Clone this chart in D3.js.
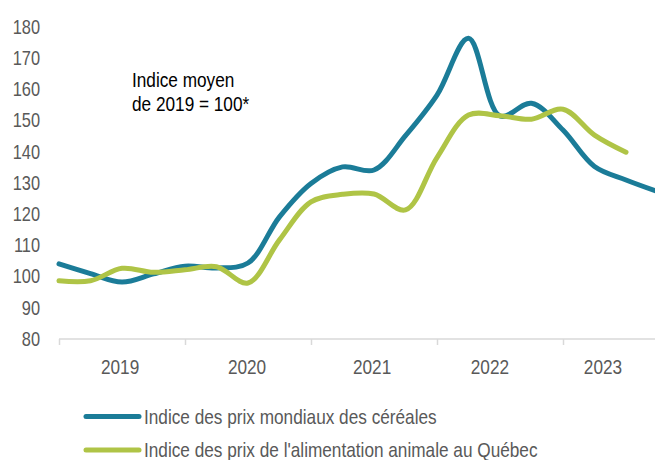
<!DOCTYPE html>
<html><head><meta charset="utf-8">
<script src="https://cdn.jsdelivr.net/npm/d3@7/dist/d3.min.js"></script>
<style>body{margin:0;background:#fff}svg{display:block}</style>
</head><body><svg id="c" width="655" height="460"></svg>
<script>
// Quarterly index values (average 2019 = 100)
const quarters = ["2019T1","2019T2","2019T3","2019T4","2020T1","2020T2","2020T3","2020T4",
  "2021T1","2021T2","2021T3","2021T4","2022T1","2022T2","2022T3","2022T4",
  "2023T1","2023T2","2023T3","2023T4"];
const cereales = [103.9,100.8,98.1,100.7,103.2,102.6,104.2,119.0,129.7,135.0,134.0,145.0,
  158.0,176.2,151.3,155.4,146.8,135.1,130.8,127.1];
const quebec = [98.5,98.5,102.5,101.2,102.0,103.0,97.8,111.6,123.8,126.2,126.3,121.2,
  138.0,151.6,151.4,150.3,153.5,145.2,139.7];
const yTicks = [80,90,100,110,120,130,140,150,160,170,180];
const years = ["2019","2020","2021","2022","2023"];
const yearStarts = [0,4,8,12,16];           // quarter index where each year begins
const yearLabelAt = [1.94,5.97,9.94,13.68,17.27]; // label anchor, in quarter units
const seriesNames = ["Indice des prix mondiaux des céréales",
  "Indice des prix de l'alimentation animale au Québec"];
const colors = ["#1b7c98","#afc446"];
const noteLines = ["Indice moyen","de 2019 = 100*"];

const svg = d3.select("#c");
const W = 655;
const x = d3.scaleLinear().domain([0,20]).range([59, 689]);
const y = d3.scaleLinear().domain([80,180]).range([338.5, 26.5]);
const FONT = "'Liberation Sans', Arial, sans-serif";
const SX = 0.82;

// y labels
svg.append("g").selectAll("text").data(yTicks).join("text")
  .attr("transform", d => `translate(40,${y(d)}) scale(${SX},1)`)
  .attr("dy","0.36em").attr("text-anchor","end")
  .attr("font-family",FONT).attr("font-size","20px").attr("fill","#595959")
  .text(d => d);

// x axis
const xAxis = d3.axisBottom(x).tickValues(yearStarts).tickSize(6).tickFormat("");
const gx = svg.append("g").attr("transform","translate(0,339)").call(xAxis);
gx.select(".domain").attr("stroke","#d9d9d9").attr("stroke-width",1.5).attr("d",`M${x(0)},0H${W}`);
gx.selectAll(".tick line").attr("stroke","#d9d9d9").attr("stroke-width",1.5);

svg.append("g").selectAll("text").data(years).join("text")
  .attr("transform",(d,i) => `translate(${x(yearLabelAt[i])},374) scale(${SX},1)`)
  .attr("text-anchor","middle")
  .attr("font-family",FONT).attr("font-size","21px").attr("fill","#595959")
  .text(d => d);

// lines
const line = d3.line().x((d,i) => x(i)).y(d => y(d)).curve(d3.curveCatmullRom.alpha(0.5));
[cereales, quebec].forEach((s,k) => {
  svg.append("path").datum(s).attr("d", line)
    .attr("fill","none").attr("stroke",colors[k]).attr("stroke-width",5)
    .attr("stroke-linecap","round").attr("stroke-linejoin","round");
});

// annotation
svg.append("g").selectAll("text").data(noteLines).join("text")
  .attr("transform",(d,i) => `translate(132,${87 + i*24}) scale(${SX},1)`)
  .attr("font-family",FONT).attr("font-size","21px").attr("fill","#000")
  .text(d => d);

// legend
const lg = svg.append("g").selectAll("g").data(seriesNames).join("g")
  .attr("transform",(d,i) => `translate(0,${416.5 + i*33.5})`);
lg.append("line").attr("x1",86).attr("x2",139).attr("y1",0).attr("y2",0)
  .attr("stroke",(d,i) => colors[i]).attr("stroke-width",5).attr("stroke-linecap","round");
lg.append("text").attr("transform",`translate(144,7) scale(${SX},1)`)
  .attr("font-family",FONT).attr("font-size","21px").attr("fill","#595959")
  .text(d => d);
</script></body></html>
